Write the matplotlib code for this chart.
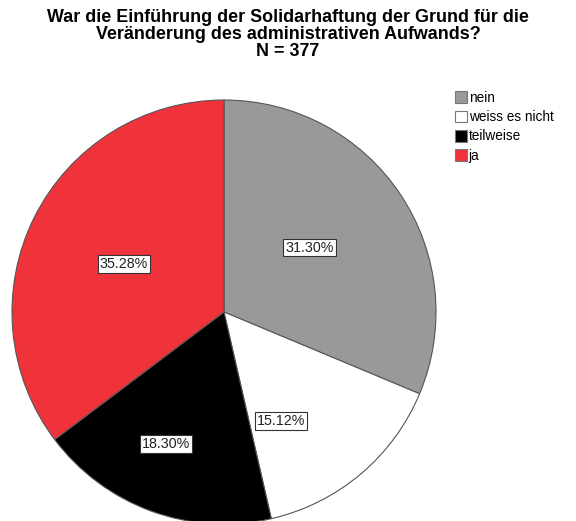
import numpy as np
import matplotlib.pyplot as plt
from matplotlib.patches import Patch

plt.rcParams['font.family'] = ['Liberation Sans', 'DejaVu Sans']

categories = ['nein', 'weiss es nicht', 'teilweise', 'ja']
percents = [31.30, 15.12, 18.30, 35.28]
colors = ['#999999', '#ffffff', '#000000', '#f0323a']
# label placement (fraction of radius, angle shift from wedge middle)
label_r = [0.505, 0.58, 0.68, 0.525]
label_dang = [3.3, -12.5, -3.7, 1.0]

title = ('War die Einführung der Solidarhaftung der Grund für die\n'
         'Veränderung des administrativen Aufwands?\nN = 377')

fig = plt.figure(figsize=(5.76, 5.21), dpi=100)
W, H = 576, 521
cx, cy, r = 224, 312, 212
ax = fig.add_axes([(cx - r) / W, (H - cy - r) / H, 2 * r / W, 2 * r / H])

wedges, _ = ax.pie(percents, colors=colors, startangle=90, counterclock=False,
                   radius=1, wedgeprops=dict(edgecolor='#555555', linewidth=0.8))
ax.set_xlim(-1, 1)
ax.set_ylim(-1, 1)
ax.set_aspect('equal')
ax.axis('off')

for w, pct, rr, da in zip(wedges, percents, label_r, label_dang):
    ang = np.deg2rad((w.theta1 + w.theta2) / 2 + da)
    ax.text(rr * np.cos(ang), rr * np.sin(ang), f'{pct:.2f}%', ha='center', va='center',
            fontsize=10.3, color='#222222',
            bbox=dict(boxstyle='square,pad=0.13', fc='white', ec='#333333', lw=0.8))

fig.text(0.5, 1 - 9 / H, title, ha='center', va='top', fontsize=12.9, fontweight='bold',
         linespacing=1.0)

handles = [Patch(facecolor=c, edgecolor='#777777', linewidth=0.8) for c in colors]
fig.legend(handles, categories, loc='upper left', bbox_to_anchor=(455 / W, 1 - 91 / H),
           frameon=False, fontsize=9.8, handlelength=0.9, handleheight=0.95,
           handletextpad=0.1, labelspacing=0.38, borderaxespad=0, borderpad=0)

fig.savefig('out.png', dpi=100)
